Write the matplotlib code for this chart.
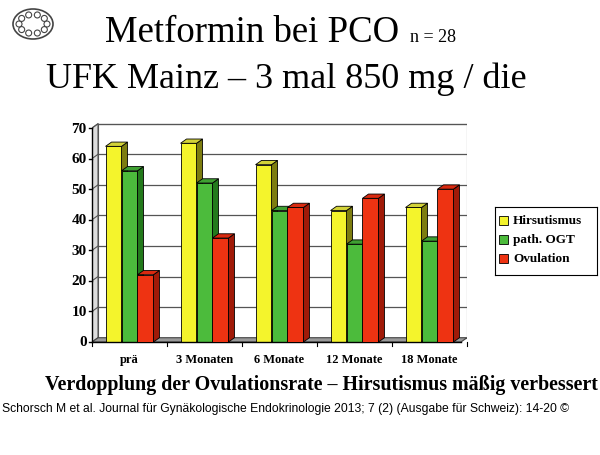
import matplotlib
matplotlib.use("Agg")
import matplotlib.pyplot as plt
from matplotlib.patches import Polygon, Rectangle, Ellipse, Circle
import math

categories = ["prä", "3 Monaten", "6 Monate", "12 Monate", "18 Monate"]
series_names = ["Hirsutismus", "path. OGT", "Ovulation"]
hirsutismus = [64, 65, 58, 43, 44]
path_ogt = [56, 52, 43, 32, 33]
ovulation = [22, 34, 44, 47, 50]
yticks = [0, 10, 20, 30, 40, 50, 60, 70]

series = [hirsutismus, path_ogt, ovulation]
face = ["#f4f42c", "#4cbb3c", "#ee3312"]
top = ["#d2d238", "#3fa032", "#d92a10"]
side = ["#7d7d10", "#237a1c", "#a01a08"]

fig = plt.figure(figsize=(6, 4.56), dpi=100)
ax = fig.add_axes([92/600, (456-343)/456, 375/600, 72*3.057/456])
ax.set_xlim(-0.5, 4.5)
ax.set_ylim(0, 72)
ax.axis("off")
dx, dy = 0.08, 1.4
x0, x1 = -0.5, 4.5 - dx

ax.add_patch(Rectangle((x0+dx, dy), x1-x0, 70, facecolor="white", edgecolor="#555555", lw=0.8, zorder=0))
ax.add_patch(Polygon([(x0, 0), (x0+dx, dy), (x0+dx, 70+dy), (x0, 70)], closed=True, facecolor="#dddddd", edgecolor="#555555", lw=0.8, zorder=0))
for t in yticks[1:]:
    ax.plot([x0+dx, x1+dx], [t+dy, t+dy], color="#555555", lw=0.9, zorder=1)
    ax.plot([x0, x0+dx], [t, t+dy], color="#555555", lw=0.8, zorder=1)
ax.add_patch(Polygon([(x0, 0), (x1, 0), (x1+dx, dy), (x0+dx, dy)], closed=True, facecolor="#999999", edgecolor="#444444", lw=0.8, zorder=1))
ax.plot([x0, x0], [0, 70], color="black", lw=1, zorder=5, clip_on=False)
ax.plot([x0, x1], [0, 0], color="black", lw=1, zorder=5, clip_on=False)
for t in yticks:
    ax.plot([x0-0.04, x0], [t, t], color="black", lw=1, clip_on=False)
    ax.text(x0-0.07, t, str(t), ha="right", va="center", fontsize=11, fontweight="bold", family="Liberation Serif")
for i in range(len(categories)+1):
    ax.plot([i-0.5, i-0.5], [0, -1.2], color="black", lw=0.8, clip_on=False)
for i, c in enumerate(categories):
    ax.text(i, -3.5, c, ha="center", va="top", fontsize=9, fontweight="bold", family="Liberation Serif")

w = 0.213
for s in range(3):
    for i, v in enumerate(series[s]):
        l = i - 1.5*w + s*w
        r = l + w
        z = 3 + s
        ax.add_patch(Rectangle((l, 0), w, v, facecolor=face[s], edgecolor="black", lw=0.6, zorder=z))
        ax.add_patch(Polygon([(r, 0), (r+dx, dy), (r+dx, v+dy), (r, v)], closed=True, facecolor=side[s], edgecolor="black", lw=0.6, zorder=z))
        ax.add_patch(Polygon([(l, v), (r, v), (r+dx, v+dy), (l+dx, v+dy)], closed=True, facecolor=top[s], edgecolor="black", lw=0.6, zorder=z))

lax = fig.add_axes([495/600, (456-276)/456, 102/600, 68/456])
lax.set_xlim(0, 102); lax.set_ylim(68, 0)
lax.set_xticks([]); lax.set_yticks([])
for sp in lax.spines.values():
    sp.set_linewidth(0.8)
for s, name in enumerate(series_names):
    y = 13 + s*19
    lax.add_patch(Rectangle((4, y-4.5), 9, 9, facecolor=face[s], edgecolor="black", lw=0.6))
    lax.text(18, y, name, va="center", fontsize=9.5, fontweight="bold", family="Liberation Serif")

fig.text(0.175, 1-42/456, "Metformin bei PCO", fontsize=26.5, family="Liberation Serif", va="baseline")
fig.text(0.683, 1-42/456, "n = 28", fontsize=13, family="Liberation Serif", va="baseline")
fig.text(0.077, 1-88/456, "UFK Mainz – 3 mal 850 mg / die", fontsize=26, family="Liberation Serif", va="baseline")
fig.text(0.075, 1-390/456, "Verdopplung der Ovulationsrate – Hirsutismus mäßig verbessert", fontsize=14.4, fontweight="bold", family="Liberation Serif", va="baseline")
fig.text(0.003, 1-412/456, "Schorsch M et al. Journal für Gynäkologische Endokrinologie 2013; 7 (2) (Ausgabe für Schweiz): 14-20 ©", fontsize=8.7, family="Liberation Sans", va="baseline")

lg = fig.add_axes([0, 1-50/456, 70/600, 50/456])
lg.set_xlim(0, 70); lg.set_ylim(50, 0); lg.axis("off")
lg.add_patch(Ellipse((33, 25), 40, 30, facecolor="white", edgecolor="#444444", lw=1.2))
for k in range(10):
    a = 2*math.pi*k/10
    lg.add_patch(Circle((33+14*math.cos(a), 25+9.5*math.sin(a)), 3, facecolor="white", edgecolor="#444444", lw=0.8))

fig.savefig("out.png", dpi=100)
